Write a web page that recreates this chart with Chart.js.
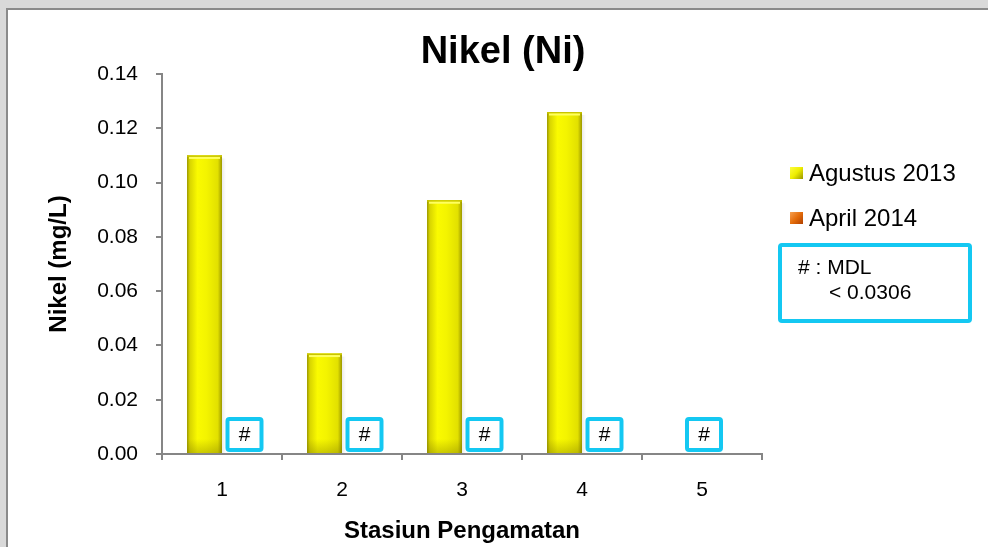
<!DOCTYPE html>
<html>
<head>
<meta charset="utf-8">
<script src="https://cdn.jsdelivr.net/npm/chart.js@4.4.1/dist/chart.umd.min.js"></script>
<style>
  html, body { margin: 0; padding: 0; background: #d9d9d9; }
  #wrap { position: absolute; left: 0; top: 0; width: 988px; height: 547px; }
  canvas { display: block; }
</style>
</head>
<body>
<div id="wrap"><canvas id="c" width="988" height="547"></canvas></div>
<script>
// ---- data ----
const categories = ['1', '2', '3', '4', '5'];
const agustus2013 = [0.110, 0.037, 0.0935, 0.126, null];
const april2014 = [0, 0, 0, 0, 0];
const mdlMarks = ['#', '#', '#', '#', '#'];
const seriesLabels = ['Agustus 2013', 'April 2014'];
const seriesColors = ['#f2f000', '#e46c0a'];
const mdlNote = ['# : MDL', '< 0.0306'];
const chartTitle = 'Nikel (Ni)';
const xTitle = 'Stasiun Pengamatan';
const yTitle = 'Nikel (mg/L)';
const yMin = 0, yMax = 0.14, yStep = 0.02;

const FONT = "'Liberation Sans', Arial, Helvetica, sans-serif";
const CYAN = '#14c8f2';
const AXIS = '#868686';

function roundRect(ctx, x, y, w, h, r) {
  ctx.beginPath();
  ctx.moveTo(x + r, y);
  ctx.lineTo(x + w - r, y);
  ctx.quadraticCurveTo(x + w, y, x + w, y + r);
  ctx.lineTo(x + w, y + h - r);
  ctx.quadraticCurveTo(x + w, y + h, x + w - r, y + h);
  ctx.lineTo(x + r, y + h);
  ctx.quadraticCurveTo(x, y + h, x, y + h - r);
  ctx.lineTo(x, y + r);
  ctx.quadraticCurveTo(x, y, x + r, y);
  ctx.closePath();
}

const framePlugin = {
  id: 'frame',
  beforeDraw(chart) {
    const ctx = chart.ctx;
    ctx.save();
    ctx.fillStyle = '#d9d9d9';
    ctx.fillRect(0, 0, chart.width, chart.height);
    ctx.fillStyle = '#ffffff';
    ctx.fillRect(8, 10, chart.width - 8, chart.height - 10);
    ctx.fillStyle = '#8a8a8a';
    ctx.fillRect(6, 8, chart.width - 6, 2);
    ctx.fillRect(6, 8, 2, chart.height - 8);
    ctx.restore();
  }
};

const barStylePlugin = {
  id: 'barStyle',
  afterDatasetDraw(chart, args) {
    if (args.index !== 0) return;
    const ctx = chart.ctx;
    const meta = chart.getDatasetMeta(0);
    meta.data.forEach((el, i) => {
      const v = agustus2013[i];
      if (v === null || v === undefined || v <= 0) return;
      const p = el.getProps(['x', 'y', 'base', 'width'], true);
      const left = p.x - p.width / 2, top = p.y, h = p.base - p.y, w = p.width;
      ctx.save();
      // soft shadow to the right
      const gs = ctx.createLinearGradient(left + w, 0, left + w + 4, 0);
      gs.addColorStop(0, 'rgba(0,0,0,0.08)');
      gs.addColorStop(1, 'rgba(0,0,0,0)');
      ctx.fillStyle = gs;
      ctx.fillRect(left + w, top + 3, 4, h - 3);
      // horizontal shading
      const g = ctx.createLinearGradient(left, 0, left + w, 0);
      g.addColorStop(0, '#9c9800');
      g.addColorStop(0.08, '#d8d400');
      g.addColorStop(0.3, '#fafa00');
      g.addColorStop(0.55, '#f4f400');
      g.addColorStop(0.88, '#e2e000');
      g.addColorStop(1, '#9c9800');
      ctx.fillStyle = g;
      ctx.fillRect(left, top, w, h);
      // darker foot
      const gb = ctx.createLinearGradient(0, p.base - 14, 0, p.base);
      gb.addColorStop(0, 'rgba(120,115,0,0)');
      gb.addColorStop(1, 'rgba(120,115,0,0.35)');
      ctx.fillStyle = gb;
      ctx.fillRect(left, p.base - 14, w, 14);
      // top bevel
      ctx.fillStyle = '#c8c400';
      ctx.fillRect(left, top, w, 1.5);
      ctx.fillStyle = '#ffff60';
      ctx.fillRect(left + 2, top + 1.5, w - 4, 2);
      ctx.restore();
    });
  }
};

const annotPlugin = {
  id: 'annot',
  afterDraw(chart) {
    const ctx = chart.ctx;
    const xs = chart.scales.x, ys = chart.scales.y;
    const metaA = chart.getDatasetMeta(1);
    ctx.save();
    // MDL boxes on each station
    mdlMarks.forEach((m, i) => {
      if (!m) return;
      const hasBar = agustus2013[i] !== null && agustus2013[i] > 0;
      const cx = hasBar ? metaA.data[i].x + 5 : xs.getPixelForValue(i) + 2;
      const bottom = ys.getPixelForValue(0) - 4;
      const bw = 34, bh = 31;
      ctx.lineWidth = 4;
      ctx.strokeStyle = CYAN;
      ctx.fillStyle = '#ffffff';
      roundRect(ctx, cx - bw / 2, bottom - bh, bw, bh, 2);
      ctx.fill();
      ctx.stroke();
      ctx.fillStyle = '#000000';
      ctx.font = '21px ' + FONT;
      ctx.textAlign = 'center';
      ctx.textBaseline = 'middle';
      ctx.fillText(m, cx, bottom - bh / 2 + 1);
    });

    // title
    ctx.fillStyle = '#000000';
    ctx.font = 'bold 38px ' + FONT;
    ctx.textAlign = 'center';
    ctx.textBaseline = 'alphabetic';
    ctx.fillText(chartTitle, 503, 63);

    // legend
    const lx = 790, ly = [173, 218];
    seriesLabels.forEach((lab, k) => {
      const y = ly[k];
      const g = ctx.createLinearGradient(lx, y - 6, lx + 13, y + 6);
      if (k === 0) {
        g.addColorStop(0, '#fdfd40'); g.addColorStop(0.5, '#eeee00'); g.addColorStop(1, '#9a9600');
      } else {
        g.addColorStop(0, '#f6a050'); g.addColorStop(0.5, '#e46c0a'); g.addColorStop(1, '#b04000');
      }
      ctx.fillStyle = g;
      ctx.fillRect(lx, y - 6, 13, 12);
      ctx.fillStyle = '#000000';
      ctx.font = '24px ' + FONT;
      ctx.textAlign = 'left';
      ctx.textBaseline = 'middle';
      ctx.fillText(lab, 809, y + 1);
    });

    // MDL note box
    ctx.lineWidth = 4;
    ctx.strokeStyle = CYAN;
    roundRect(ctx, 780, 245, 190, 76, 2);
    ctx.stroke();
    ctx.fillStyle = '#000000';
    ctx.font = '21px ' + FONT;
    ctx.textAlign = 'left';
    ctx.textBaseline = 'middle';
    ctx.fillText(mdlNote[0], 798, 268);
    ctx.fillText(mdlNote[1], 829, 293);
    ctx.restore();
  }
};

new Chart(document.getElementById('c'), {
  type: 'bar',
  data: {
    labels: categories,
    datasets: [
      { label: seriesLabels[0], data: agustus2013, backgroundColor: seriesColors[0], borderWidth: 0,
        categoryPercentage: 0.5833, barPercentage: 1.0 },
      { label: seriesLabels[1], data: april2014, backgroundColor: seriesColors[1], borderWidth: 0,
        categoryPercentage: 0.5833, barPercentage: 1.0 }
    ]
  },
  options: {
    responsive: false,
    animation: false,
    layout: { padding: { left: 8, top: 74, right: 226, bottom: 0 } },
    plugins: {
      legend: { display: false },
      title: { display: false },
      tooltip: { enabled: false }
    },
    scales: {
      x: {
        afterFit(scale) { scale.height = 93; },
        grid: { display: true, drawOnChartArea: false, offset: true, tickLength: 6, color: AXIS, lineWidth: 2 },
        border: { display: true, color: AXIS, width: 2 },
        ticks: { color: '#000000', font: { family: FONT, size: 21 }, padding: 18 },
        title: { display: true, text: xTitle, color: '#000000',
                 font: { family: FONT, size: 24, weight: 'bold' }, padding: { top: 0, bottom: 1 } }
      },
      y: {
        min: yMin, max: yMax,
        afterFit(scale) { scale.width = 154; },
        grid: { display: true, drawOnChartArea: false, tickLength: 6, color: AXIS, lineWidth: 2 },
        border: { display: true, color: AXIS, width: 2 },
        ticks: { stepSize: yStep, color: '#000000', font: { family: FONT, size: 21 }, padding: 18,
                 callback: (v) => Number(v).toFixed(2) },
        title: { display: true, text: yTitle, color: '#000000',
                 font: { family: FONT, size: 24, weight: 'bold' }, padding: { top: 37, bottom: 0 } }
      }
    }
  },
  plugins: [framePlugin, barStylePlugin, annotPlugin]
});
</script>
</body>
</html>
